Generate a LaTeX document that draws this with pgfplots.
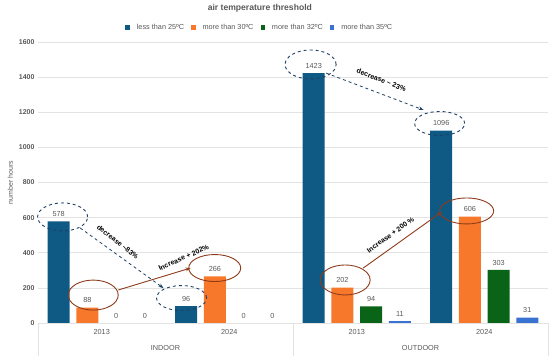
\documentclass[border=0pt]{standalone}
\usepackage{pgfplots}
\pgfplotsset{compat=1.18}
\usepackage{fontspec}
\setmainfont{Liberation Sans}
\usetikzlibrary{arrows.meta}
\definecolor{cA}{HTML}{0E5A84}
\definecolor{cB}{HTML}{F7782A}
\definecolor{cC}{HTML}{0A6418}
\definecolor{cD}{HTML}{3A72D2}
\definecolor{brn}{HTML}{8E3B1C}
\definecolor{dblue}{HTML}{1E3F66}
\definecolor{txt}{HTML}{595959}
\definecolor{grd}{HTML}{E3E3E3}
\begin{document}
\begin{tikzpicture}
\begin{axis}[
  scale only axis, width=510pt, height=281pt,
  ybar=6.7pt, bar width=22pt,
  xmin=-0.5, xmax=3.5, ymin=0, ymax=1600,
  xtick={0,1,2,3}, xticklabels={2013,2024,2013,2024},
  ytick={0,200,...,1600},
  ymajorgrids, grid style={grd, line width=0.6pt},
  axis line style={draw=none},
  major tick length=0pt,
  tick label style={font=\fontsize{7.3}{8}\selectfont, text=txt},
  yticklabel style={font=\bfseries\fontsize{7}{8}\selectfont},
  /pgf/number format/assume math mode=true,
  /pgf/number format/1000 sep={},
  xticklabel style={yshift=-3pt},
  ylabel={number hours}, ylabel style={font=\fontsize{7}{8}\selectfont, text=txt, yshift=-1pt},
  title={air temperature threshold},
  title style={font=\bfseries\fontsize{8.6}{9}\selectfont, text=txt, at={(0.435,1)}, anchor=south, yshift=20pt},
  legend style={at={(0.435,1)}, anchor=south, yshift=8pt, draw=none, font=\fontsize{7.3}{8}\selectfont, text=txt, column sep=5pt, inner sep=1pt},
  legend columns=4,
  legend image code/.code={\fill[#1] (0pt,-2.2pt) rectangle (4.4pt,2.2pt);},
  nodes near coords,
  nodes near coords style={font=\fontsize{7.3}{8}\selectfont, text=txt, yshift=1pt},
  clip=false,
]
\addplot[fill=cA, draw=none] coordinates {(0,578) (1,96) (2,1423) (3,1096)};
\addplot[fill=cB, draw=none] coordinates {(0,88) (1,266) (2,202) (3,606)};
\addplot[fill=cC, draw=none] coordinates {(0,0) (1,0) (2,94) (3,303)};
\addplot[fill=cD, draw=none] coordinates {(0,0) (1,0) (2,11) (3,31)};
\legend{less than 25ºC, more than 30ºC, more than 32ºC, more than 35ºC}
\draw[grd, line width=0.6pt] (axis cs:-0.5,0) -- (axis cs:3.5,0);
\draw[grd, line width=0.6pt] (axis cs:-0.5,0) -- ++(0pt,-33pt);
\draw[grd, line width=0.6pt] (axis cs:1.5,0) -- ++(0pt,-33pt);
\draw[grd, line width=0.6pt] (axis cs:3.5,0) -- ++(0pt,-33pt);
\node[font=\fontsize{7.3}{8}\selectfont, text=txt] at ([yshift=-25pt]axis cs:0.5,0) {INDOOR};
\node[font=\fontsize{7.3}{8}\selectfont, text=txt] at ([yshift=-25pt]axis cs:2.5,0) {OUTDOOR};
% annotations (INDOOR)
\draw[dblue, dashed, line width=0.9pt] (axis cs:-0.307,604) ellipse [x radius=25pt, y radius=14pt];
\draw[dblue, dashed, line width=0.9pt] (axis cs:0.626,142) ellipse [x radius=25pt, y radius=12.5pt];
\draw[dblue, dashed, line width=0.8pt, -{Stealth[length=5pt]}] (axis cs:-0.169,541) -- (axis cs:0.484,199);
\node[font=\bfseries\fontsize{7}{8}\selectfont, rotate=-38] at (axis cs:0.125,462) {decrease {\textasciitilde}83\%};
\draw[brn, line width=0.9pt] (axis cs:-0.067,159) ellipse [x radius=25pt, y radius=15pt];
\draw[brn, line width=0.9pt] (axis cs:0.886,313) ellipse [x radius=26pt, y radius=13.5pt];
\draw[brn, line width=0.9pt, -{Stealth[length=5pt]}] (axis cs:0.130,188) -- (axis cs:0.697,313);
\node[font=\bfseries\fontsize{7}{8}\selectfont, rotate=24] at (axis cs:0.642,372) {Increase + 202\%};
% annotations (OUTDOOR)
\draw[dblue, dashed, line width=0.9pt] (axis cs:1.638,1472) ellipse [x radius=25.5pt, y radius=14.5pt];
\draw[dblue, dashed, line width=0.9pt] (axis cs:2.650,1136) ellipse [x radius=25pt, y radius=12pt];
\draw[dblue, dashed, line width=0.8pt, -{Stealth[length=5pt]}] (axis cs:1.760,1423) -- (axis cs:2.524,1213);
\node[font=\bfseries\fontsize{7}{8}\selectfont, rotate=-21] at (axis cs:2.193,1384) {decrease {\textasciitilde} 23\%};
\draw[brn, line width=0.9pt] (axis cs:1.909,245) ellipse [x radius=25pt, y radius=15pt];
\draw[brn, line width=0.9pt] (axis cs:2.862,638) ellipse [x radius=27pt, y radius=13pt];
\draw[brn, line width=0.9pt, -{Stealth[length=5pt]}] (axis cs:2.051,313) -- (axis cs:2.665,632);
\node[font=\bfseries\fontsize{7}{8}\selectfont, rotate=36] at (axis cs:2.264,501) {Increase + 200 \%};
\end{axis}
\pgfresetboundingbox
\path ([shift={(-38pt,-36pt)}]current axis.south west) rectangle ([shift={(2pt,42pt)}]current axis.north east);
\end{tikzpicture}
\end{document}
